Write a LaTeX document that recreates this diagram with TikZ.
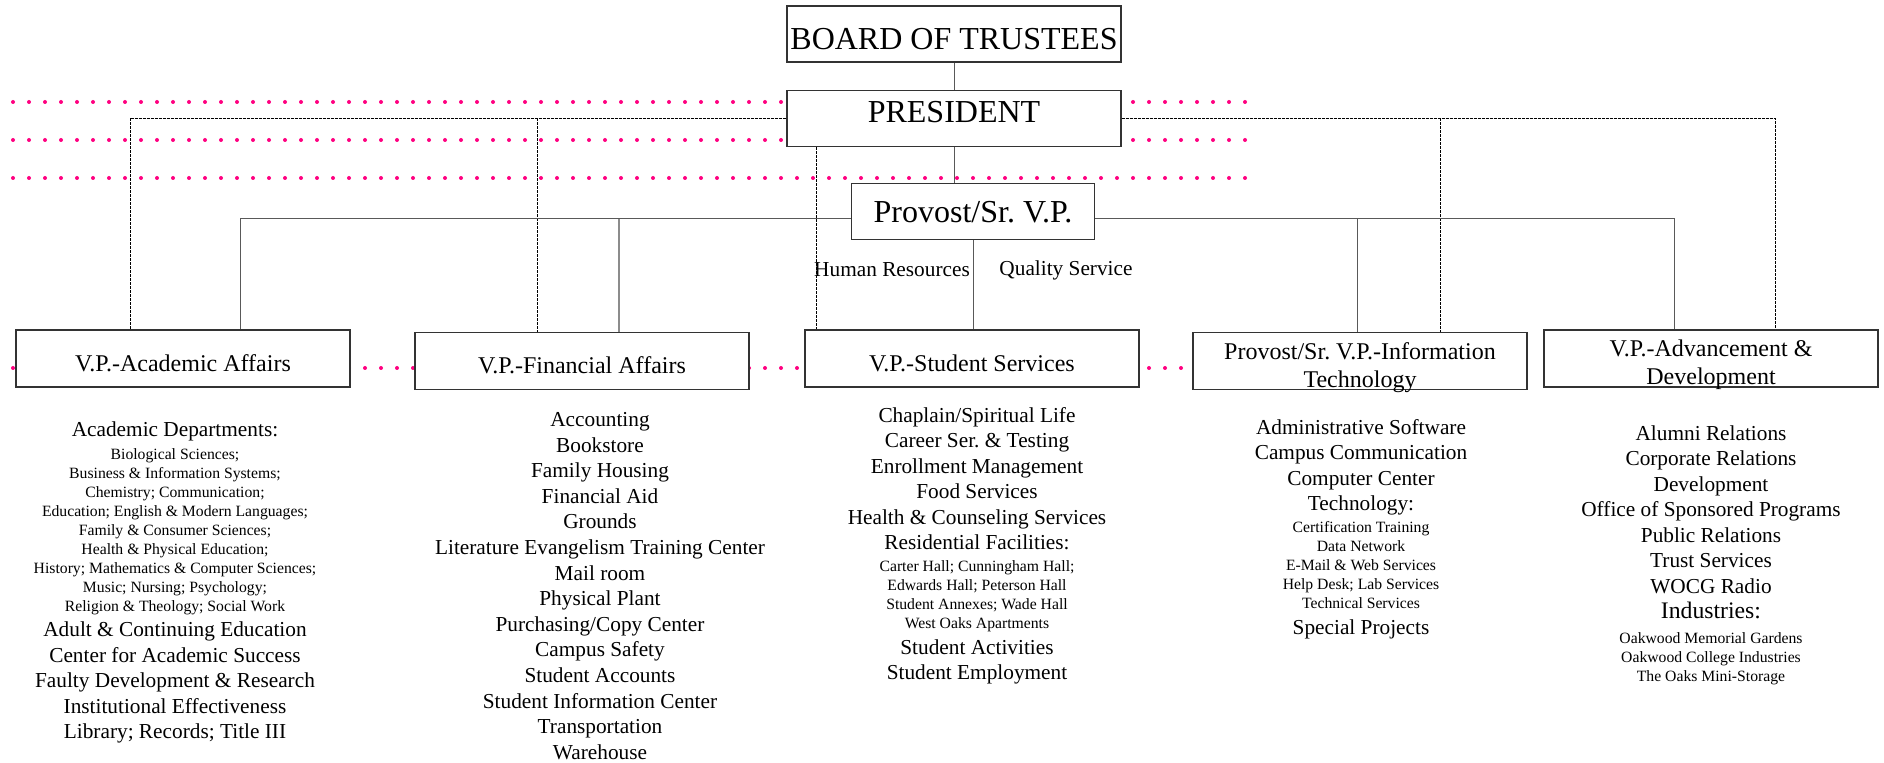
\documentclass[tikz,border=0pt]{standalone}
\usepackage{fontspec}
\setmainfont{Liberation Serif}
\usetikzlibrary{positioning, calc, backgrounds}
\frenchspacing
\definecolor{dotpink}{RGB}{255,0,128}
\newcommand\topfont{\fontsize{16}{19}\selectfont}
\newcommand\vpfont{\fontsize{12}{14}\selectfont}
\newcommand\unitfont{\fontsize{10.65}{12.75}\selectfont}
\newcommand\deptfont{\fontsize{7.85}{9.5}\selectfont}
\newcommand\grpfont{\fontsize{11.85}{12.75}\selectfont}
\tikzset{
	topbox/.append style={
		draw=black!80,
		fill=white,
		line width=0.7pt,
		minimum width=167pt,
		minimum height=28pt,
		font=\topfont,
		inner sep=1pt
	},
	vpbox/.append style={
		draw=black!80,
		fill=white,
		line width=0.7pt,
		align=center,
		minimum width=167pt,
		minimum height=28.5pt,
		font=\vpfont,
		inner sep=1pt
	},
	lowtext/.append style={
		text height=12.7pt,
		text depth=0pt
	},
	lowpair/.append style={
		text height=26.3pt,
		text depth=0.2pt
	},
	unitlist/.append style={
		anchor=north,
		align=flush center,
		text width=200pt,
		inner sep=0pt,
		font=\unitfont
	},
	sidenote/.append style={
		font=\unitfont,
		inner sep=0pt
	},
	solidlink/.append style={
		draw=black!65,
		line width=0.5pt
	},
	dashlink/.append style={
		draw=black,
		line width=0.5pt,
		dash pattern=on 1.5pt off 0.5pt
	},
	pinkdots/.append style={
		draw=dotpink,
		line width=2pt,
		line cap=round,
		dash pattern=on 0pt off 8pt
	}
}

\begin{document}
\begin{tikzpicture}[x=0.5pt, y=-0.5pt]
\useasboundingbox (0,0) rectangle (1884,763);

\node(board)[topbox, text height=15.6pt, text depth=0pt] at (954,34) {BOARD OF TRUSTEES};
\node(pres)[topbox, text height=10.6pt, text depth=6pt, below = 13.5pt of board] {PRESIDENT};
\node(prov)[topbox, minimum width=121.5pt, below = 18pt of pres, xshift=9.5pt] {Provost/Sr. V.P.};

\node(vpacad)[vpbox, lowtext] at (183,358.5) {V.P.-Academic Affairs};
\node(vpfin)[vpbox, lowtext] at (582,361) {V.P.-Financial Affairs};
\node(vpstu)[vpbox, lowtext] at (972,358.5) {V.P.-Student Services};
\node(vpit)[vpbox, lowpair] at (1360,361) {Provost/Sr. V.P.-Information\\Technology};
\node(vpadv)[vpbox, lowpair] at (1711,358.5) {V.P.-Advancement \&\\Development};

\node(hr)[sidenote] at (892,270) {Human Resources};
\node(qs)[sidenote] at (1066,270) {Quality Service};

\node(acadlist)[unitlist] at (175,421) {
	{\unitfont Academic Departments:\par}
	{\deptfont\vspace{2pt}Biological Sciences;\\ Business \& Information Systems;\\
	Chemistry; Communication;\\ Education; English \& Modern Languages;\\
	Family \& Consumer Sciences;\\ Health \& Physical Education;\\
	History; Mathematics \& Computer Sciences;\\ Music; Nursing; Psychology;\\
	Religion \& Theology; Social Work\par}
	{\unitfont Adult \& Continuing Education\\ Center for Academic Success\\
	Faulty Development \& Research\\ Institutional Effectiveness\\
	Library; Records; Title III\par}};
\node(finlist)[unitlist] at (600,412) {
	{\fontsize{10.65}{12.8}\selectfont Accounting\\ Bookstore\\ Family Housing\\
	Financial Aid\\ Grounds\\ Literature Evangelism Training Center\\ Mail room\\
	Physical Plant\\ Purchasing/Copy Center\\ Campus Safety\\ Student Accounts\\
	Student Information Center\\ Transportation\\ Warehouse\par}};
\node(stulist)[unitlist] at (977,407) {
	{\unitfont Chaplain/Spiritual Life\\ Career Ser. \& Testing\\ Enrollment Management\\
	Food Services\\ Health \& Counseling Services\\ Residential Facilities:\par}
	{\deptfont\vspace{1.5pt}Carter Hall; Cunningham Hall;\\ Edwards Hall; Peterson Hall\\
	Student Annexes; Wade Hall\\ West Oaks Apartments\par}
	{\unitfont Student Activities\\ Student Employment\par}};
\node(itlist)[unitlist] at (1361,419) {
	{\unitfont Administrative Software\\ Campus Communication\\ Computer Center\\
	Technology:\par}
	{\deptfont\vspace{1.5pt}Certification Training\\ Data Network\\
	E-Mail \& Web Services\\ Help Desk; Lab Services\\ Technical Services\par}
	{\unitfont Special Projects\par}};
\node(advlist)[unitlist] at (1711,425) {
	{\unitfont Alumni Relations\\ Corporate Relations\\ Development\\
	Office of Sponsored Programs\\ Public Relations\\ Trust Services\\ WOCG Radio\par}
	{\grpfont Industries:\par}
	{\deptfont\vspace{3pt}Oakwood Memorial Gardens\\ Oakwood College Industries\\
	The Oaks Mini-Storage\par}};

\begin{scope}[on background layer]
% pink guide rows
\foreach \y in {102,140,178}
	\draw[pinkdots] (13,\y) -- (1247,\y);
\draw[pinkdots] (13,368) -- (1185,368);

\coordinate (acadP) at ($(vpacad.north)+(-53,0)$);
\coordinate (finP) at ($(vpfin.north)+(-45,0)$);
\coordinate (stuP) at ($(vpstu.north)+(-156,0)$);
\coordinate (itP) at ($(vpit.north)+(80,0)$);
\coordinate (advP) at ($(vpadv.north)+(64,0)$);
\coordinate (acadV) at ($(vpacad.north)+(57,0)$);
\coordinate (finV) at ($(vpfin.north)+(37,0)$);
\coordinate (itV) at ($(vpit.north)+(-3,0)$);
\coordinate (advV) at ($(vpadv.north)+(-37,0)$);
\coordinate (provL) at ($(prov.west)+(0,7)$);
\coordinate (provR) at ($(prov.east)+(0,7)$);

\draw[solidlink] (board.south) -- (pres.north);
\draw[solidlink] (pres.south) -- (pres.south |- prov.north);
\draw[solidlink] (prov.south) -- (prov.south |- vpstu.north);

\draw[dashlink] (pres.west) -| (acadP);
\draw[dashlink] (pres.west -| finP) -- (finP);
\draw[dashlink] (pres.east) -| (advP);
\draw[dashlink] (pres.east -| itP) -- (itP);
\draw[dashlink] (pres.south -| stuP) -- (stuP);

\draw[solidlink] (provL) -| (acadV);
\draw[solidlink, draw=black!45, line width=0.9pt] (provL -| finV) -- (finV);
\draw[solidlink] (provR) -| (advV);
\draw[solidlink] (provR -| itV) -- (itV);
\end{scope}
\end{tikzpicture}
\end{document}
